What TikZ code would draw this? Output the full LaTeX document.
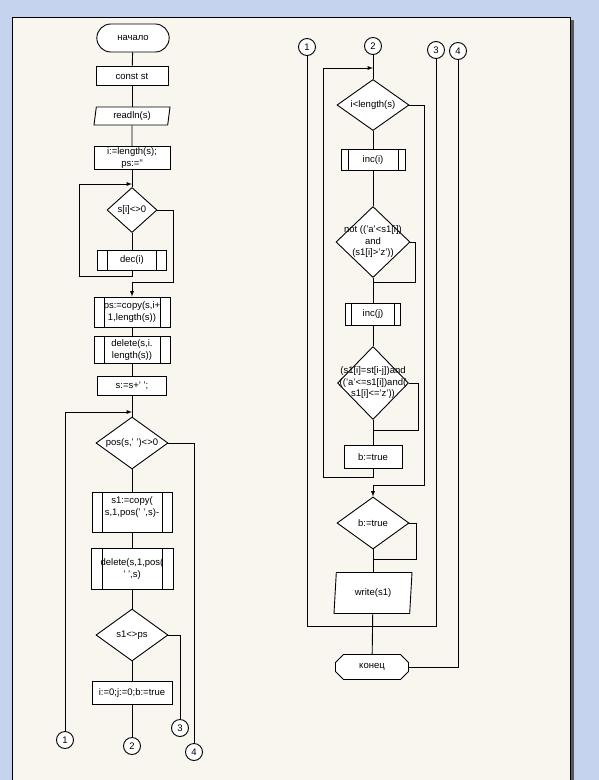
\documentclass[tikz,border=0pt]{standalone}
\usepackage{fontspec}
\setmainfont{Liberation Sans}
\usetikzlibrary{shapes.geometric,shapes.misc}
\definecolor{deskblue}{RGB}{197,211,238}
\definecolor{sheet}{RGB}{249,246,239}
\begin{document}
\begin{tikzpicture}[x=1pt,y=-1pt,line width=0.9pt,font=\fontsize{9.5}{11.5}\selectfont]
	\tikzset{box/.style = {draw, fill=white, rectangle, align=center, inner sep=1pt}}
	\tikzset{sub/.style = {box, path picture={\draw ([xshift=#1]path picture bounding box.north west) -- ([xshift=#1]path picture bounding box.south west) ([xshift=-#1]path picture bounding box.north east) -- ([xshift=-#1]path picture bounding box.south east);}}, sub/.default=10pt}
	\tikzset{io/.style = {draw, fill=white, trapezium, trapezium left angle=78, trapezium right angle=102, trapezium stretches body, inner sep=1pt}}
	\tikzset{decision/.style = {draw, fill=white, diamond, inner sep=0pt}}
	\tikzset{conn/.style = {draw, fill=white, circle, minimum size=17pt, inner sep=0pt}}
	\tikzset{edge/.style = {->,> = latex}}
	\useasboundingbox (0,0) rectangle (599,780);
	% Draw sheet
	\fill[deskblue] (0,0) rectangle (599,780);
	\fill[black!65] (571,20) rectangle (574,790);
	\draw[fill=sheet] (12,17) rectangle (570,800);
	% Left column
	\node[draw, fill=white, rounded rectangle, minimum width=79pt, minimum height=28pt] (start) at (133,38) {начало};
	\node[box, minimum width=72pt, minimum height=19pt] (const) at (132,76) {const st};
	\node[io, minimum width=76pt, minimum height=18pt] (read) at (132,116) {readln(s)};
	\node[box, minimum width=76pt, minimum height=23pt] (init) at (132,158) {i:=length(s);\\ ps:=''};
	\node[decision, minimum width=50pt, minimum height=45pt, label={center:{s[i]<>0}}] (si) at (132,210) {};
	\node[sub, minimum width=69pt, minimum height=20pt] (dec) at (132,260) {dec(i)};
	\node[sub, minimum width=76pt, minimum height=30pt] (ps) at (132,312) {ps:=copy(s,i+\\1,length(s))};
	\node[sub, minimum width=76pt, minimum height=27pt] (del1) at (132,350) {delete(s,i.\\length(s))};
	\node[box, minimum width=69pt, minimum height=19pt] (sadd) at (132,386) {s:=s+' ';};
	\node[decision, minimum width=72pt, minimum height=52pt, label={center:{pos(s,' ')<>0}}] (pos) at (132,443) {};
	\node[sub, minimum width=80pt, minimum height=40pt] (copy1) at (132,512) {s1:=copy(\\s,1,pos(' ',s)-\\ \mbox{}};
	\node[sub=11pt, minimum width=82pt, minimum height=41pt] (del2) at (132,569) {delete(s,1,pos(\\' ',s)};
	\node[decision, minimum width=72pt, minimum height=52pt, label={center:{s1<>ps}}] (neq) at (132,635) {};
	\node[box, minimum width=80pt, minimum height=23pt] (zero) at (132,693) {i:=0;j:=0;b:=true};
	\node[conn] (c1l) at (65,740) {1};
	\node[conn] (c2l) at (132,746) {2};
	\node[conn] (c3l) at (180,728) {3};
	\node[conn] (c4l) at (194,752) {4};
	\coordinate (m1) at (132,184);
	\coordinate (l1) at (79,276);
	\coordinate (r1) at (173,282);
	\coordinate (m2) at (132,412);
	\draw (start) -- (const);
	\draw (const) -- (read);
	\draw (read) -- (init);
	\draw (init) -- (si);
	\draw (si) -- (dec);
	\draw[edge] (dec.south) |- (l1) |- (m1);
	\draw[edge] (si.east) -| (r1) -| (ps.north);
	\draw (ps) -- (del1);
	\draw (del1) -- (sadd);
	\draw (sadd) -- (pos);
	\draw[edge] (c1l.north) |- (m2);
	\draw (pos) -- (copy1);
	\draw (copy1) -- (del2);
	\draw (del2) -- (neq);
	\draw (neq) -- (zero);
	\draw (zero) -- (c2l);
	\draw (pos.east) -| (c4l.north);
	\draw (neq.east) -| (c3l.north);
	% Right column
	\node[conn] (c1r) at (307,47) {1};
	\node[conn] (c2r) at (373,46) {2};
	\node[conn] (c3r) at (436,50) {3};
	\node[conn] (c4r) at (458,51) {4};
	\node[decision, minimum width=72pt, minimum height=51pt, label={center:{i<length(s)}}] (cmp) at (373,105) {};
	\node[sub=7pt, minimum width=64pt, minimum height=21pt] (inci) at (373,160) {inc(i)};
	\node[decision, minimum width=74pt, minimum height=71pt, label={[align=center]center:{not (('a'<s1[i])\\and\\(s1[i]>'z'))}}] (nt) at (373,242) {};
	\node[sub=6pt, minimum width=55pt, minimum height=22pt] (incj) at (373,314) {inc(j)};
	\node[decision, minimum width=71pt, minimum height=73pt, label={[align=center]center:{(s1[i]=st[i-j])and\\(('a'<=s1[i])and(\\s1[i]<='z'))}}] (eq) at (373,383) {};
	\node[box, minimum width=58pt, minimum height=23pt] (btrue) at (373,457) {b:=true};
	\node[decision, minimum width=72pt, minimum height=52pt, label={center:{b:=true}}] (bt2) at (373,523) {};
	\node[io, minimum width=78pt, minimum height=41pt] (write) at (373,593) {write(s1)};
	\node[draw, fill=white, chamfered rectangle, chamfered rectangle xsep=8pt, minimum width=73pt, minimum height=25pt, inner sep=1pt] (end) at (372,667) {конец};
	\coordinate (m3) at (373,68);
	\coordinate (l3) at (323,477);
	\coordinate (r2) at (415,282);
	\coordinate (r3) at (418,430);
	\coordinate (r4) at (424,485);
	\coordinate (r5) at (416,559);
	\coordinate (j5) at (373,626);
	\draw (c2r) -- (cmp);
	\draw (cmp) -- (inci);
	\draw (inci) -- (nt);
	\draw (nt) -- (incj);
	\draw (incj) -- (eq);
	\draw (eq) -- (btrue);
	\draw[edge] (btrue.south) |- (l3) |- (m3);
	\draw (nt.east) -| (r2) -- (r2 -| nt.south);
	\draw (eq.east) -| (r3) -- (r3 -| eq.south);
	\draw[edge] (cmp.east) -| (r4) -| (bt2.north);
	\draw (bt2.east) -| (r5) -- (r5 -| bt2.south);
	\draw (bt2) -- (write);
	\draw (write) -- (end);
	\draw (c1r.south) |- (j5);
	\draw (c3r.south) |- (j5);
	\draw (end.east) -| (c4r.south);
\end{tikzpicture}
\end{document}
